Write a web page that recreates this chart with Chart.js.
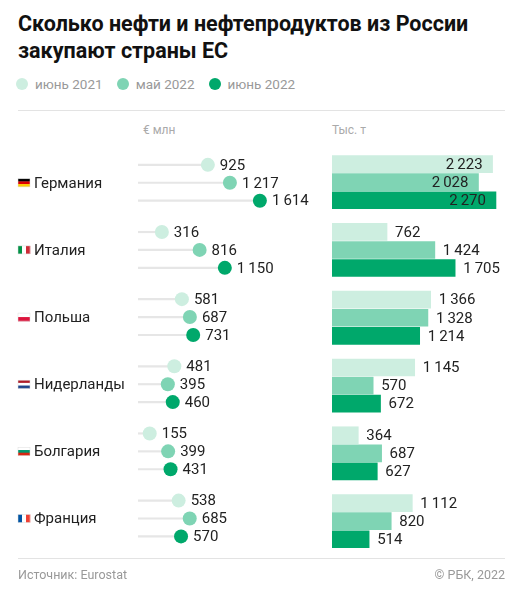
<!DOCTYPE html>
<html><head><meta charset="utf-8">
<script src="https://cdn.jsdelivr.net/npm/chart.js@4"></script>
<style>
body{margin:0;background:#fff;font-family:Roboto,"Noto Sans",sans-serif;width:523px;height:600px;position:relative;overflow:hidden}
.t{position:absolute;left:18px;top:10px;font-size:21.5px;font-weight:700;line-height:27px;color:#111}
.lg{position:absolute;top:76px;left:16px;font-size:13.5px;color:#999;display:flex;gap:14px}
.lg span{display:flex;align-items:center}
.lg i{display:inline-block;width:12px;height:12px;border-radius:50%;margin-right:7px}
.hr{position:absolute;left:18px;width:487px;height:1px;background:#e3e3e3}
.h{position:absolute;top:123px;font-size:12px;color:#aaa}
.f{position:absolute;top:567px;font-size:12.5px;color:#999}
canvas{position:absolute}
</style></head><body>
<div class="t">Сколько нефти и нефтепродуктов из России<br>закупают страны ЕС</div>
<div class="lg"><span><i style="background:#cdeee0"></i>июнь 2021</span><span><i style="background:#7fd4b4"></i>май 2022</span><span><i style="background:#00a86b"></i>июнь 2022</span></div>
<div class="hr" style="top:110px"></div>
<div class="h" style="left:143px">€ млн</div>
<div class="h" style="left:332px">Тыс. т</div>
<div style="position:absolute;left:0;top:134px;width:330px;height:430px"><canvas id="c1"></canvas></div>
<div style="position:absolute;left:332px;top:140px;width:180px;height:420px"><canvas id="c2"></canvas></div>
<div class="hr" style="top:558px"></div>
<div class="f" style="left:18px">Источник: Eurostat</div>
<div class="f" style="right:18px">© РБК, 2022</div>
<script>
const countries=["Германия","Италия","Польша","Нидерланды","Болгария","Франция"];
const series=["июнь 2021","май 2022","июнь 2022"];
const eurJun21=[925,316,581,481,155,538];
const eurMay22=[1217,816,687,395,399,685];
const eurJun22=[1614,1150,731,460,431,570];
const tJun21=[2223,762,1366,1145,364,1112];
const tMay22=[2028,1424,1328,570,687,820];
const tJun22=[2270,1705,1214,672,627,514];
const colors=["#cdeee0","#7fd4b4","#00a86b"];
const flags=[{d:"h",c:["#000","#dd0000","#ffce00"]},{d:"v",c:["#009246","#fff","#ce2b37"]},{d:"h",c:["#fff","#dc143c"]},{d:"h",c:["#ae1c28","#fff","#21468b"]},{d:"h",c:["#fff","#00966e","#d62612"]},{d:"v",c:["#0055a4","#fff","#ef4135"]}];
const pos=(g,k)=>g*3.75+k;
const fmt=v=>String(v).replace(/\B(?=(\d{3})+(?!\d))/g,"\u2009");
function pts(arr,k){return arr.map((v,g)=>({x:v,y:pos(g,k)}));}
const yS=()=>({type:'linear',reverse:true,min:-1.333,max:21.9,display:false,offset:false,grace:0,bounds:'data'});
Chart.defaults.font.family="Roboto";
const sets=[eurJun21,eurMay22,eurJun22];
const ds1=[];
sets.forEach((a,k)=>ds1.push({type:'bar',data:pts(a,k),backgroundColor:'#e6e6e6',barThickness:1.5,grouped:false,order:2}));
sets.forEach((a,k)=>ds1.push({type:'scatter',data:pts(a,k),backgroundColor:colors[k],pointRadius:7,pointHoverRadius:7,borderWidth:0,order:1}));
new Chart(document.getElementById('c1'),{type:'bar',data:{datasets:ds1},
options:{indexAxis:'y',responsive:true,maintainAspectRatio:false,animation:false,layout:{padding:{left:138,right:10,top:0,bottom:0}},
plugins:{legend:{display:false},tooltip:{enabled:false}},
scales:{x:{type:'linear',min:0,max:2410,display:false},y:yS()}},
plugins:[{id:'lbl',afterDatasetsDraw(ch){const c=ch.ctx;c.save();c.font='15px Roboto';c.fillStyle='#222';c.textBaseline='middle';
for(let k=0;k<3;k++){ch.getDatasetMeta(3+k).data.forEach((p,g)=>{c.fillText(fmt(sets[k][g]),p.x+12,p.y+1);});}
const ys=ch.scales.y;
countries.forEach((n,g)=>{const y=ys.getPixelForValue(pos(g,1));c.fillStyle='#222';c.font='15px Roboto';c.fillText(n,34,y+1);
const f=flags[g],w=12,h=8,x0=18,y0=y-4;f.c.forEach((col,i)=>{c.fillStyle=col;if(f.d==='h'){c.fillRect(x0,y0+i*h/f.c.length,w,h/f.c.length+0.3);}else{c.fillRect(x0+i*w/3,y0,w/3+0.3,h);}});
c.strokeStyle='#ddd';c.lineWidth=0.5;c.strokeRect(x0,y0,w,h);});
c.restore();}}]});
const tsets=[tJun21,tMay22,tJun22];
const ds2=tsets.map((a,k)=>({data:pts(a,k),backgroundColor:colors[k],barThickness:17,grouped:false}));
new Chart(document.getElementById('c2'),{type:'bar',data:{datasets:ds2},
options:{indexAxis:'y',responsive:true,maintainAspectRatio:false,animation:false,layout:{padding:0},
plugins:{legend:{display:false},tooltip:{enabled:false}},
scales:{x:{type:'linear',min:0,max:2492,display:false},y:yS()}},
plugins:[{id:'lbl2',afterDatasetsDraw(ch){const c=ch.ctx;c.save();c.font='15px Roboto';c.fillStyle='#222';c.textBaseline='middle';
tsets.forEach((a,k)=>ch.getDatasetMeta(k).data.forEach((b,g)=>{const v=a[g];if(v>1900){c.textAlign='right';c.fillText(fmt(v),b.x-10,b.y+1);}else{c.textAlign='left';c.fillText(fmt(v),b.x+8,b.y+1);}}));
c.restore();}}]});
</script></body></html>
